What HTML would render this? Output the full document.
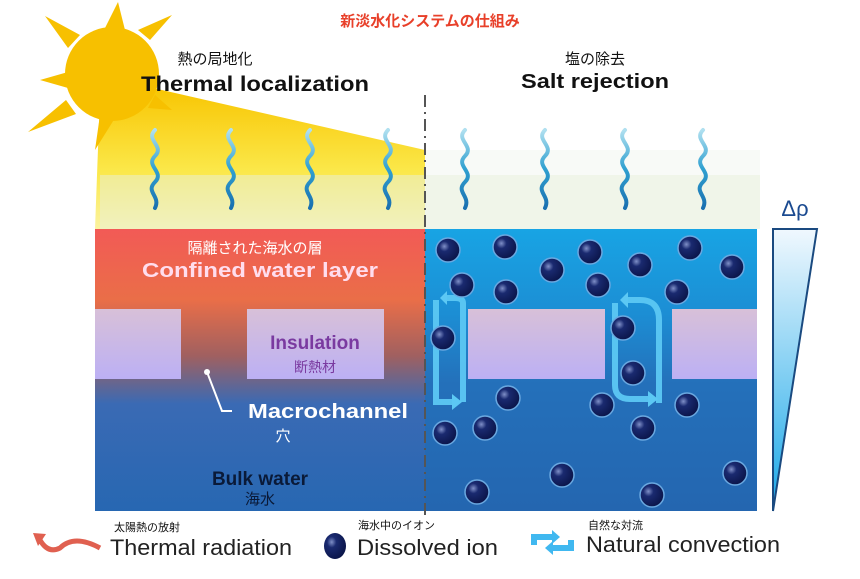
<!DOCTYPE html>
<html><head><meta charset="utf-8"><style>
body{margin:0;background:#fff;}
svg text{font-family:"Liberation Sans","Noto Sans CJK JP",sans-serif;}
</style></head><body>
<svg width="860" height="574" viewBox="0 0 860 574" xmlns="http://www.w3.org/2000/svg">
<defs>
<linearGradient id="beam" x1="0" y1="0" x2="0" y2="1">
<stop offset="0" stop-color="#f8c400"/><stop offset="0.6" stop-color="#fbe84a"/><stop offset="1" stop-color="#fbf3a0"/></linearGradient>
<linearGradient id="lp" x1="0" y1="0" x2="0" y2="1">
<stop offset="0" stop-color="#f25a56"/><stop offset="0.25" stop-color="#ea6e48"/><stop offset="0.45" stop-color="#a06060"/><stop offset="0.62" stop-color="#3a6ab4"/><stop offset="1" stop-color="#2767b2"/></linearGradient>
<linearGradient id="rp" x1="0" y1="0" x2="0" y2="1">
<stop offset="0" stop-color="#18a4e4"/><stop offset="0.3" stop-color="#1c8ed4"/><stop offset="0.55" stop-color="#2470ba"/><stop offset="1" stop-color="#2466b0"/></linearGradient>
<linearGradient id="ins" x1="0" y1="0" x2="0" y2="1">
<stop offset="0" stop-color="#d8c0d8"/><stop offset="1" stop-color="#bcb0f4"/></linearGradient>
<linearGradient id="tri" x1="0" y1="0" x2="0" y2="1">
<stop offset="0" stop-color="#f0f8fe"/><stop offset="1" stop-color="#1aa8e8"/></linearGradient>
<radialGradient id="ion" cx="0.35" cy="0.35" r="0.7">
<stop offset="0" stop-color="#8090c8"/><stop offset="0.3" stop-color="#1a2a70"/><stop offset="1" stop-color="#0a1448"/></radialGradient>
<linearGradient id="wave" x1="0" y1="0" x2="0" y2="1">
<stop offset="0" stop-color="#b0e0f0"/><stop offset="0.5" stop-color="#30a0d0"/><stop offset="1" stop-color="#1a70b0"/></linearGradient>
</defs>
<polygon points="100,95 140,85 425,150 425,229 95,229" fill="url(#beam)"/>
<polygon points="425,150 760,150 760,229 425,229" fill="#f4f6f2" opacity="0.6"/>
<rect x="100" y="175" width="660" height="54" fill="#e8f0dc" opacity="0.5"/>
<g fill="#f7c000">
<circle cx="112" cy="74" r="47"/>
<polygon points="118,2 125,30 105,28"/>
<polygon points="45,16 80,35 68,48"/>
<polygon points="172,15 150,40 138,30"/>
<polygon points="40,80 68,72 68,88"/>
<polygon points="28,132 66,100 76,114"/>
<polygon points="95,150 100,115 115,118"/>
<polygon points="172,110 155,95 148,108"/>
</g>
<g fill="none" stroke="url(#wave)" stroke-width="4" stroke-linecap="round">
<path id="w" d="M155,130 c-10,10 10,16 0,26 c-10,10 10,16 0,26 c-10,10 6,14 0,26"/>
<use href="#w" x="76"/><use href="#w" x="155"/><use href="#w" x="233"/><use href="#w" x="310"/><use href="#w" x="390"/><use href="#w" x="470"/><use href="#w" x="548"/>
</g>
<rect x="95" y="229" width="330" height="282" fill="url(#lp)"/>
<rect x="425" y="229" width="332" height="282" fill="url(#rp)"/>
<rect x="95" y="309" width="86" height="70" fill="url(#ins)"/>
<rect x="247" y="309" width="137" height="70" fill="url(#ins)"/>
<rect x="468" y="309" width="137" height="70" fill="url(#ins)"/>
<rect x="672" y="309" width="85" height="70" fill="url(#ins)"/>
<line x1="425" y1="95" x2="425" y2="520" stroke="#555" stroke-width="2" stroke-dasharray="12,5,2,5"/>
<polygon points="773,229 817,229 773,511" fill="url(#tri)" stroke="#1a4a80" stroke-width="2"/>
<text x="795" y="216" font-size="22" text-anchor="middle" fill="#1a4a90">Δρ</text>
<g fill="none" stroke="#5cc8f4" stroke-width="6" opacity="0.95">
<path d="M436,300 V402 H452"/><path d="M463,402 V303 Q463,298 455,298 H447"/>
<path d="M615,303 V385 Q615,399 630,399 H648"/><path d="M659,403 V320 Q659,300 640,300 H628"/>
</g>
<g fill="#5cc8f4"><polygon points="452,394 462,402 452,410"/><polygon points="447,291 440,298 447,305"/><polygon points="648,391 658,399 648,407"/><polygon points="628,292 620,300 628,308"/></g>
<g fill="url(#ion)" stroke="#6aa8e0" stroke-width="1.5">
<circle cx="448" cy="250" r="12"/><circle cx="505" cy="247" r="12"/><circle cx="552" cy="270" r="12"/><circle cx="590" cy="252" r="12"/><circle cx="640" cy="265" r="12"/><circle cx="690" cy="248" r="12"/><circle cx="732" cy="267" r="12"/><circle cx="462" cy="285" r="12"/><circle cx="506" cy="292" r="12"/><circle cx="598" cy="285" r="12"/><circle cx="677" cy="292" r="12"/><circle cx="443" cy="338" r="12"/><circle cx="623" cy="328" r="12"/><circle cx="633" cy="373" r="12"/><circle cx="508" cy="398" r="12"/><circle cx="602" cy="405" r="12"/><circle cx="687" cy="405" r="12"/><circle cx="445" cy="433" r="12"/><circle cx="485" cy="428" r="12"/><circle cx="643" cy="428" r="12"/><circle cx="562" cy="475" r="12"/><circle cx="735" cy="473" r="12"/><circle cx="477" cy="492" r="12"/><circle cx="652" cy="495" r="12"/>
</g>
<circle cx="207" cy="372" r="3" fill="#fff"/>
<polyline points="207,372 222,411 232,411" fill="none" stroke="#fff" stroke-width="2"/>
<text x="430" y="26" font-size="15" font-weight="bold" fill="#e8402a" text-anchor="middle">新淡水化システムの仕組み</text>
<text x="215" y="64" font-size="15" fill="#111" text-anchor="middle">熱の局地化</text>
<text x="141" y="91" font-size="21" font-weight="bold" fill="#111" textLength="228" lengthAdjust="spacingAndGlyphs">Thermal localization</text>
<text x="595" y="64" font-size="15" fill="#111" text-anchor="middle">塩の除去</text>
<text x="521" y="88" font-size="20" font-weight="bold" fill="#111" textLength="148" lengthAdjust="spacingAndGlyphs">Salt rejection</text>
<text x="255" y="253" font-size="15" fill="#fff" text-anchor="middle">隔離された海水の層</text>
<text x="142" y="277" font-size="20" font-weight="bold" fill="#fde" textLength="236" lengthAdjust="spacingAndGlyphs">Confined water layer</text>
<text x="315" y="349" font-size="19" font-weight="bold" fill="#7a3aa0" text-anchor="middle">Insulation</text>
<text x="315" y="372" font-size="14" fill="#7a3aa0" text-anchor="middle">断熱材</text>
<text x="248" y="418" font-size="20" font-weight="bold" fill="#fff" textLength="160" lengthAdjust="spacingAndGlyphs">Macrochannel</text>
<text x="283" y="441" font-size="15" fill="#fff" text-anchor="middle">穴</text>
<text x="260" y="485" font-size="19" font-weight="bold" fill="#0a1a38" text-anchor="middle">Bulk water</text>
<text x="260" y="504" font-size="15" fill="#0a1a38" text-anchor="middle">海水</text>
<path d="M40,540 q8,14 20,8 q14,-14 40,0" fill="none" stroke="#e06050" stroke-width="5"/>
<polygon points="33,533 46,534 38,546" fill="#e06050"/>
<text x="114" y="531" font-size="11" fill="#111">太陽熱の放射</text>
<text x="110" y="555" font-size="22" fill="#222" textLength="182" lengthAdjust="spacingAndGlyphs">Thermal radiation</text>
<ellipse cx="335" cy="546" rx="11" ry="13" fill="url(#ion)"/>
<text x="358" y="529" font-size="11" fill="#111">海水中のイオン</text>
<text x="357" y="555" font-size="22" fill="#222" textLength="141" lengthAdjust="spacingAndGlyphs">Dissolved ion</text>
<path d="M534,545 v-8 h18 M571,540 v8 h-18" fill="none" stroke="#40b8f0" stroke-width="6"/>
<polygon points="552,530 560,537 552,544" fill="#40b8f0"/><polygon points="553,541 545,548 553,555" fill="#40b8f0"/>
<text x="588" y="529" font-size="11" fill="#111">自然な対流</text>
<text x="586" y="552" font-size="22" fill="#222" textLength="194" lengthAdjust="spacingAndGlyphs">Natural convection</text>
</svg>
</body></html>
